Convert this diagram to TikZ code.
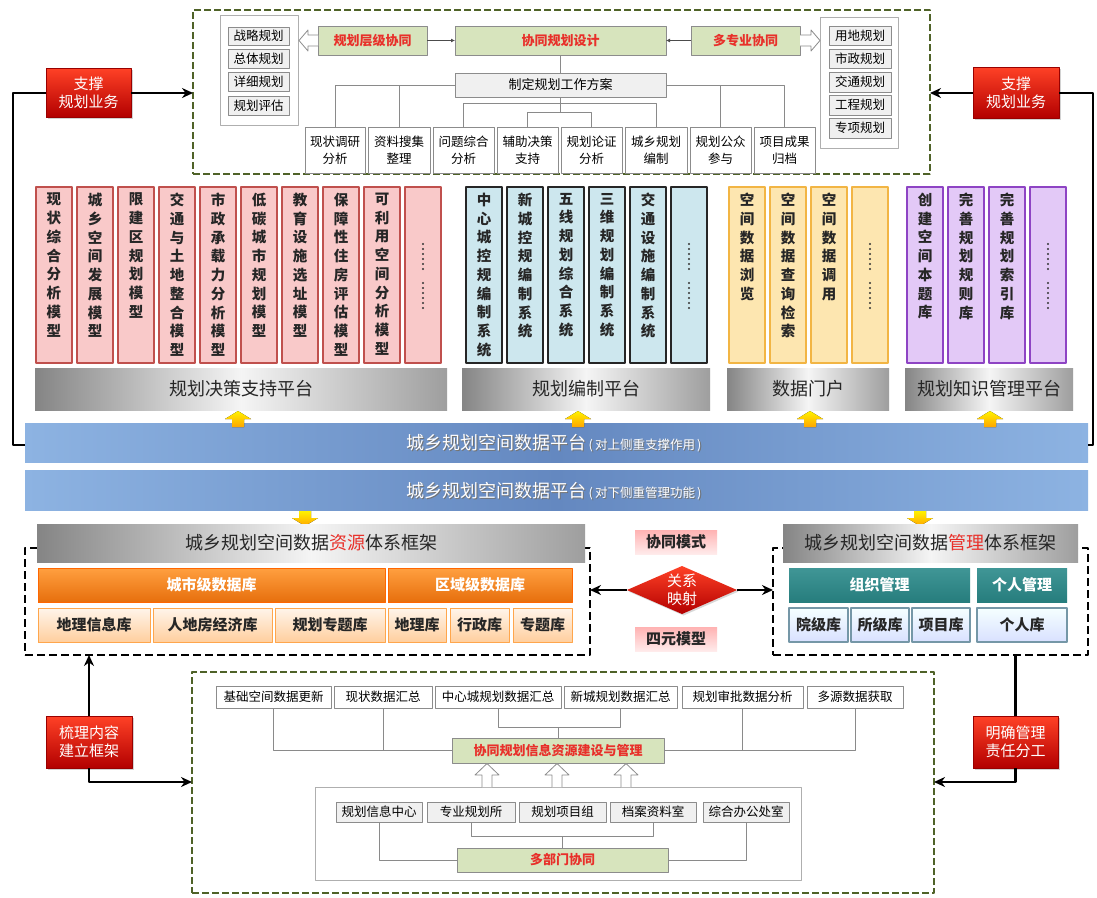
\documentclass[tikz,border=0pt]{standalone}
\usepackage{fontspec}
\setmainfont{Noto Sans CJK SC}
\usetikzlibrary{arrows.meta,shapes.geometric,shadows}
\definecolor{oliveg}{HTML}{4F6228}
\definecolor{mgray}{HTML}{8C8C8C}
\definecolor{lgray}{HTML}{8A8A8A}
\definecolor{ltgray}{HTML}{F0F0F0}
\definecolor{grfill}{HTML}{D7E4BD}
\definecolor{redtxt}{HTML}{E8302A}
\definecolor{pinkfill}{HTML}{F9C9C9}
\definecolor{pinkdraw}{HTML}{C0504D}
\definecolor{bluefill}{HTML}{CDE7EE}
\definecolor{yelfill}{HTML}{FDE6B0}
\definecolor{yeldraw}{HTML}{F2B544}
\definecolor{purfill}{HTML}{E3C9F7}
\definecolor{purdraw}{HTML}{8E44C4}
\definecolor{blueside}{HTML}{8DB3E2}
\definecolor{bluemid}{HTML}{6488C0}
\makeatletter
\newcommand\vtxt[1]{\@tfor\vt@c:=#1\do{\vt@c\par}}
\makeatother
\newcommand\bx[7]{\node[#1,minimum width={#4-(#2)},minimum height={#5-(#3)}] (#6) at ({(#2+#4)/2},{(#3+#5)/2}) {#7};}
\tikzset{
 base/.style={inner sep=0pt,outer sep=0pt,align=center},
 gline/.style={draw=lgray,line width=0.9pt},
 itembox/.style={base,draw=mgray,line width=0.8pt,fill=ltgray,font=\fontsize{12.5}{15}\selectfont},
 wbox/.style={base,draw=mgray,line width=0.8pt,fill=white,font=\fontsize{12.5}{17}\selectfont},
 listbox/.style={base,draw=mgray!70,line width=0.8pt,fill=white},
 grbox/.style={base,draw=mgray,line width=0.8pt,fill=grfill,text=redtxt,font=\bfseries\fontsize{13}{15}\selectfont},
 zdbox/.style={base,draw=mgray,line width=0.8pt,fill=ltgray,font=\fontsize{13}{15}\selectfont},
 gdash/.style={base,draw=oliveg,line width=2.6pt,dash pattern=on 7pt off 3pt},
 kdash/.style={base,draw=black,line width=2.4pt,dash pattern=on 8pt off 4pt},
 hollow/.style={draw=mgray,line width=0.8pt,fill=white},
 colbase/.style={base,anchor=north west,minimum width=36,minimum height=176},
 pinkcol/.style={colbase,fill=pinkfill,draw=pinkdraw,line width=1.5pt},
 bluecol/.style={colbase,fill=bluefill,draw=black!85,line width=1.6pt},
 yelcol/.style={colbase,fill=yelfill,draw=yeldraw,line width=1.5pt},
 purcol/.style={colbase,fill=purfill,draw=purdraw,line width=1.5pt},
 coltext/.style={base,anchor=north,text width=18pt,font=\bfseries\fontsize{14.5}{18.75}\selectfont,text=black!85},
 plat/.style={base,left color=black!48,right color=black!38,middle color=black!4,text=black!85,font=\fontsize{18}{20}\selectfont},
 bluebar/.style={base,left color=blueside,right color=blueside,middle color=bluemid},
 bartext/.style={base,font=\fontsize{18}{20}\selectfont},
 redlab/.style={base,top color=red!75!orange!85,bottom color=red!70!black,draw=red!60!black,line width=0.5pt,text=white,font=\fontsize{15}{18}\selectfont,drop shadow={opacity=0.35,shadow xshift=2pt,shadow yshift=-2pt}},
 orbar/.style={base,top color=orange!75,bottom color=orange!90!red!90!black!95,draw=orange!80!red,line width=0.6pt,text=white,font=\bfseries\fontsize{15}{17}\selectfont},
 orsmall/.style={base,top color=orange!8,bottom color=orange!38,draw=orange!70,line width=1pt,text=black!85,font=\bfseries\fontsize{15}{17}\selectfont},
 teal/.style={base,top color=cyan!45!black!75,bottom color=cyan!40!black!85,text=white,font=\bfseries\fontsize{15}{17}\selectfont},
 tealsmall/.style={base,top color=cyan!4,bottom color=cyan!20!blue!15,draw=cyan!45!black!70,line width=1.2pt,text=black!85,font=\bfseries\fontsize{15}{17}\selectfont},
 pinkmid/.style={base,top color=red!30,bottom color=red!8,text=black!85,font=\bfseries\fontsize{15}{17}\selectfont},
 conn/.style={draw=black,line width=2.3pt},
 tip/.style={-{Stealth[length=11pt,width=10pt]}},
 yarrow/.style={top color=yellow!90!orange,bottom color=orange!70!yellow,draw=none},
}
\begin{document}
\begin{tikzpicture}[x=1pt,y=-1pt,line join=round]
\useasboundingbox[fill=white] (0,0) rectangle (1097,897);

% ================= TOP BOX =================
\bx{gdash}{193}{10}{930}{174}{topbox}{}
\bx{listbox}{220}{15}{298}{125}{llist}{}
\bx{itembox}{228}{27}{289}{45}{l1}{战略规划}
\bx{itembox}{228}{49}{289}{68}{l2}{总体规划}
\bx{itembox}{228}{72}{289}{91}{l3}{详细规划}
\bx{itembox}{228}{96}{289}{115}{l4}{规划评估}
\bx{listbox}{820}{17}{898}{148}{rlist}{}
\bx{itembox}{829}{26}{891}{45}{r1}{用地规划}
\bx{itembox}{829}{49}{891}{68}{r2}{市政规划}
\bx{itembox}{829}{72}{891}{92}{r3}{交通规划}
\bx{itembox}{829}{95}{891}{115}{r4}{工程规划}
\bx{itembox}{829}{118}{891}{138}{r5}{专项规划}
\bx{grbox}{318}{26}{427}{55}{g1}{规划层级协同}
\bx{grbox}{455}{26}{666}{55}{g2}{协同规划设计}
\bx{grbox}{691}{26}{800}{55}{g3}{多专业协同}
\draw[hollow] (318,35) -- (308,35) -- (308,30) -- (299,40.5) -- (308,51) -- (308,46) -- (318,46);
\draw[hollow] (800,35) -- (811,35) -- (811,30) -- (820,40.5) -- (811,51) -- (811,46) -- (800,46);
\draw[draw=black!70,line width=0.8pt,-{Latex[length=4pt,width=4pt]}] (g1.east) -- (g2.west);
\draw[draw=black!70,line width=0.8pt,-{Latex[length=4pt,width=4pt]}] (g3.west) -- (g2.east);
\bx{zdbox}{455}{73}{666}{97}{zd}{制定规划工作方案}
\draw[gline] (g2.south) -- (zd.north);
\bx{wbox}{305}{127}{365}{173}{b1}{现状调研\\分析}
\bx{wbox}{368}{127}{430}{173}{b2}{资料搜集\\整理}
\bx{wbox}{433}{127}{494}{173}{b3}{问题综合\\分析}
\bx{wbox}{497}{127}{558}{173}{b4}{辅助决策\\支持}
\bx{wbox}{561}{127}{622}{173}{b5}{规划论证\\分析}
\bx{wbox}{625}{127}{687}{173}{b6}{城乡规划\\编制}
\bx{wbox}{690}{127}{751}{173}{b7}{规划公众\\参与}
\bx{wbox}{754}{127}{815}{173}{b8}{项目成果\\归档}
\coordinate (h1) at (0,103);
\coordinate (h2) at (0,112);
\draw[gline] (zd.west) -| (b1.north);
\draw[gline] (b2.north) -- (b2.north |- zd.west);
\draw[gline] (zd.east) -| (b8.north);
\draw[gline] (b7.north) -- (b7.north |- zd.east);
\draw[gline] (zd.south) -- (zd.south |- h2);
\draw[gline] (b3.north) -- (b3.north |- h1) -- (b6.north |- h1) -- (b6.north);
\draw[gline] (b4.north) -- (b4.north |- h2) -- (b5.north |- h2) -- (b5.north);

% ================= COLUMNS =================
\foreach \x/\t [count=\i] in {36/现状综合分析模型,77/城乡空间发展模型,118/限建区规划模型,159/交通与土地整合模型,200/市政承载力分析模型,241/低碳城市规划模型,282/教育设施选址模型,323/保障性住房评估模型,364/可利用空间分析模型}{
  \node[pinkcol] (pc\i) at (\x,187) {};
  \node[coltext] at (\x+18,193) {\expandafter\vtxt\expandafter{\t}};
}
\node[pinkcol] (pc10) at (405,187) {};
\foreach \x/\t [count=\i] in {466/中心城控规编制系统,507/新城控规编制系统,548/五线规划综合系统,589/三维规划编制系统,630/交通设施编制系统}{
  \node[bluecol] (bc\i) at (\x,187) {};
  \node[coltext] at (\x+18,193) {\expandafter\vtxt\expandafter{\t}};
}
\node[bluecol] (bc6) at (671,187) {};
\foreach \x/\t [count=\i] in {729/空间数据浏览,770/空间数据查询检索,811/空间数据调用}{
  \node[yelcol] (yc\i) at (\x,187) {};
  \node[coltext] at (\x+18,193) {\expandafter\vtxt\expandafter{\t}};
}
\node[yelcol] (yc4) at (852,187) {};
\foreach \x/\t [count=\i] in {907/创建空间本题库,948/完善规划规则库,989/完善规划索引库}{
  \node[purcol] (uc\i) at (\x,187) {};
  \node[coltext] at (\x+18,193) {\expandafter\vtxt\expandafter{\t}};
}
\node[purcol] (uc4) at (1030,187) {};
\foreach \cx in {423,689,870,1048}{
  \foreach \k in {0,...,5}{
    \fill[black!80] (\cx,{244+\k*5}) circle (1.1);
    \fill[black!80] (\cx,{283+\k*5}) circle (1.1);
  }
}

% ================= PLATFORM BARS =================
\bx{plat}{35}{368}{447}{410}{p1}{规划决策支持平台}
\bx{plat}{462}{368}{710}{410}{p2}{规划编制平台}
\bx{plat}{727}{368}{889}{410}{p3}{数据门户}
\bx{plat}{905}{368}{1073}{410}{p4}{规划知识管理平台}

% ================= BLUE BARS =================
\bx{bluebar}{25}{423}{1088}{462}{bar1}{}
\bx{bluebar}{25}{470}{1088}{510}{bar2}{}
\node[bartext,text=black!55] at (555.2,444.2) {城乡规划空间数据平台{\fontsize{12.5}{14}\selectfont\,(\,对上侧重支撑作用\,)}};
\node[bartext,text=white] (bt1) at (554,443) {城乡规划空间数据平台{\fontsize{12.5}{14}\selectfont\,(\,对上侧重支撑作用\,)}};
\node[bartext,text=black!55] at (555.2,492.2) {城乡规划空间数据平台{\fontsize{12.5}{14}\selectfont\,(\,对下侧重管理功能\,)}};
\node[bartext,text=white] (bt2) at (554,491) {城乡规划空间数据平台{\fontsize{12.5}{14}\selectfont\,(\,对下侧重管理功能\,)}};

% yellow arrows
\foreach \cx in {238,578,810,990}{
  \fill[yarrow] (\cx-6,427) -- (\cx-6,419) -- (\cx-13,419) -- (\cx,411) -- (\cx+13,419) -- (\cx+6,419) -- (\cx+6,427) -- cycle;
}
\foreach \cx in {305,920}{
  \fill[yarrow] (\cx-6,511) -- (\cx-6,518) -- (\cx-13,518) -- (\cx,526) -- (\cx+13,518) -- (\cx+6,518) -- (\cx+6,511) -- cycle;
}

% ================= RESOURCE FRAMEWORK =================
\bx{kdash}{25}{548}{590}{655}{res}{}
\bx{plat}{37}{524}{585}{562}{rh}{城乡规划空间数据{\color{redtxt}资源}体系框架}
\bx{orbar}{38}{568}{385}{602}{o1}{城市级数据库}
\bx{orbar}{388}{568}{572}{602}{o2}{区域级数据库}
\bx{orsmall}{38}{608}{150}{642}{os1}{地理信息库}
\bx{orsmall}{153}{608}{272}{642}{os2}{人地房经济库}
\bx{orsmall}{275}{608}{385}{642}{os3}{规划专题库}
\bx{orsmall}{388}{608}{446}{642}{os4}{地理库}
\bx{orsmall}{450}{608}{509}{642}{os5}{行政库}
\bx{orsmall}{513}{608}{572}{642}{os6}{专题库}

% ================= MANAGEMENT FRAMEWORK =================
\bx{kdash}{773}{548}{1088}{655}{mg}{}
\bx{plat}{783}{524}{1078}{562}{mh}{城乡规划空间数据{\color{redtxt}管理}体系框架}
\bx{teal}{789}{568}{970}{602}{m1}{组织管理}
\bx{teal}{977}{568}{1067}{602}{m2}{个人管理}
\bx{tealsmall}{789}{608}{848}{642}{ms1}{院级库}
\bx{tealsmall}{851}{608}{909}{642}{ms2}{所级库}
\bx{tealsmall}{912}{608}{970}{642}{ms3}{项目库}
\bx{tealsmall}{977}{608}{1067}{642}{ms4}{个人库}

% ================= MIDDLE =================
\bx{pinkmid}{635}{530}{717}{554}{xm}{协同模式}
\bx{pinkmid}{635}{627}{717}{651}{sy}{四元模型}
\node[diamond,aspect=1.85,minimum width=110,inner sep=0pt,outer sep=0pt,top color=red!75!orange!85,bottom color=red!70!black,text=white,font=\fontsize{15}{18}\selectfont,align=center,drop shadow={opacity=0.3,shadow xshift=1.5pt,shadow yshift=-1.5pt}] (dia) at (682,590) {关系\\映射};
\draw[conn,tip] (dia.west) -- (dia.west -| res.east);
\draw[conn,tip] (dia.east) -- (dia.east -| mg.west);

% ================= BOTTOM BOX =================
\bx{gdash}{192}{672}{934}{893}{botbox}{}
\bx{wbox}{216}{686}{331}{708}{t1}{基础空间数据更新}
\bx{wbox}{334}{686}{432}{708}{t2}{现状数据汇总}
\bx{wbox}{435}{686}{561}{708}{t3}{中心城规划数据汇总}
\bx{wbox}{564}{686}{677}{708}{t4}{新城规划数据汇总}
\bx{wbox}{682}{686}{803}{708}{t5}{规划审批数据分析}
\bx{wbox}{807}{686}{903}{708}{t6}{多源数据获取}
\bx{grbox}{452}{738}{664}{763}{xx}{协同规划信息资源建设与管理}
\coordinate (hb) at (0,727);
\draw[gline] (xx.west) -| (t1.south);
\draw[gline] (t2.south) -- (t2.south |- xx.west);
\draw[gline] (xx.east) -| (t6.south);
\draw[gline] (t5.south) -- (t5.south |- xx.east);
\draw[gline] (xx.north) -- (xx.north |- hb);
\draw[gline] (t3.south) -- (t3.south |- hb) -- (t4.south |- hb) -- (t4.south);
\bx{listbox}{315}{787}{801}{880}{inner}{}
\foreach \cx in {487,557,626}{
  \draw[hollow] (\cx-5,787) -- (\cx-5,775) -- (\cx-12,775) -- (\cx,763.5) -- (\cx+12,775) -- (\cx+5,775) -- (\cx+5,787);
}
\bx{itembox}{336}{802}{422}{822}{q1}{规划信息中心}
\bx{itembox}{427}{802}{515}{822}{q2}{专业规划所}
\bx{itembox}{519}{802}{606}{822}{q3}{规划项目组}
\bx{itembox}{610}{802}{696}{822}{q4}{档案资料室}
\bx{itembox}{703}{802}{789}{822}{q5}{综合办公处室}
\bx{grbox}{457}{848}{668}{872}{dm}{多部门协同}
\coordinate (hc) at (0,836);
\draw[gline] (dm.west) -| (q1.south);
\draw[gline] (dm.east) -| (q5.south);
\draw[gline] (dm.north) -- (dm.north |- hc);
\draw[gline] (q2.south) -- (q2.south |- hc) -- (q4.south |- hc) -- (q4.south);

% ================= OUTER CONNECTORS =================
\coordinate (L1) at (13,445);
\coordinate (L2) at (13,93);
\coordinate (R1) at (1093,445);
\coordinate (R2) at (1093,93);
\coordinate (B1) at (0,782);
\bx{redlab}{46}{68}{131}{117}{sl}{支撑\\规划业务}
\bx{redlab}{973}{67}{1059}{118}{sr}{支撑\\规划业务}
\bx{redlab}{46}{716}{132}{768}{sbl}{梳理内容\\建立框架}
\bx{redlab}{973}{716}{1058}{768}{sbr}{明确管理\\责任分工}
\draw[conn] (bar1.west |- L1) -- (L1) -- (L2) -- (sl.west |- L2);
\draw[conn,tip] (sl.east |- L2) -- (topbox.west |- L2);
\draw[conn] (bar1.east |- R1) -- (R1) -- (R2) -- (sr.east |- R2);
\draw[conn,tip] (sr.west |- R2) -- (topbox.east |- R2);
\draw[conn,tip] (sbl.north) -- (sbl.north |- res.south);
\draw[conn,tip] (sbl.south) |- (botbox.west |- B1);
\draw[conn] (sbr.north) -- (sbr.north |- mg.south);
\draw[conn,tip] (sbr.south) |- (botbox.east |- B1);
\end{tikzpicture}
\end{document}
